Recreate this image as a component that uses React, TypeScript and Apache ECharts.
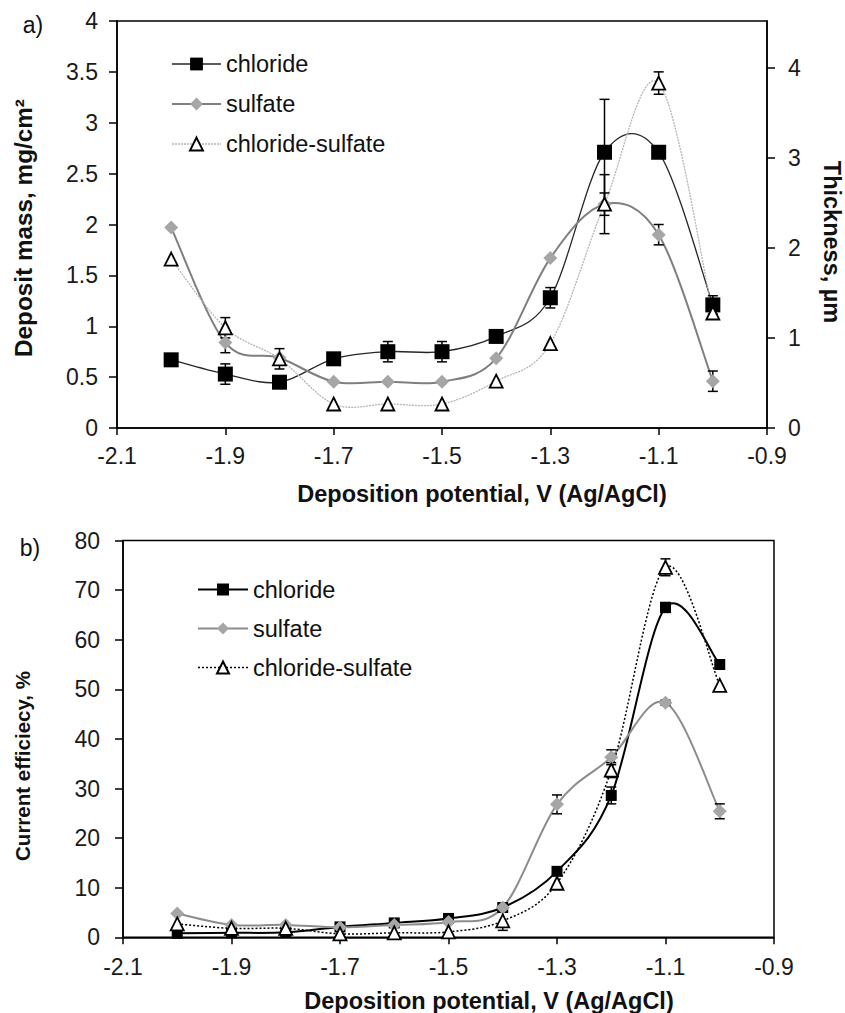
import React, { useEffect, useRef } from 'react';
import * as echarts from 'echarts';

// ---------- data ----------
const potentials = [-2.0, -1.9, -1.8, -1.7, -1.6, -1.5, -1.4, -1.3, -1.2, -1.1, -1.0];
const seriesNames = ['chloride', 'sulfate', 'chloride-sulfate'];

// (a) deposit mass, mg/cm2
const massChloride = [0.67, 0.53, 0.45, 0.68, 0.75, 0.75, 0.9, 1.28, 2.71, 2.71, 1.21];
const massChlorideErr = [0, 0.1, 0, 0, 0.1, 0.1, 0, 0.1, 0.52, 0, 0.09];
const massSulfate = [1.97, 0.84, 0.69, 0.455, 0.455, 0.455, 0.685, 1.67, 2.2, 1.9, 0.46];
const massSulfateErr = [0, 0.1, 0, 0, 0, 0, 0, 0, 0.29, 0.1, 0.1];
const massChlSulf = [1.66, 0.985, 0.68, 0.236, 0.236, 0.236, 0.46, 0.83, 2.2, 3.39, 1.13];
const massChlSulfErr = [0, 0.1, 0.1, 0, 0, 0, 0, 0, 0.11, 0.11, 0];

// (b) current efficiency, %
const ceChloride = [0.8, 0.9, 1.0, 2.1, 2.9, 3.8, 6.0, 13.3, 28.6, 66.5, 55.0];
const ceChlorideErr = [0, 0, 0, 0, 0, 0, 0, 0, 1.7, 1.0, 0];
const ceSulfate = [4.8, 2.5, 2.5, 2.0, 2.5, 3.1, 6.0, 26.8, 36.3, 47.3, 25.4];
const ceSulfateErr = [0, 0, 0, 0, 0, 0, 0, 1.9, 1.5, 0.5, 1.5];
const ceChlSulf = [2.7, 1.8, 1.8, 0.7, 0.9, 1.1, 3.3, 10.9, 33.7, 74.6, 50.8];
const ceChlSulfErr = [0, 0, 0, 0, 0, 0, 1.9, 0, 1.5, 1.7, 0];

// axes
const xMin = -2.1, xMax = -0.9, xStep = 0.2;
const massMin = 0, massMax = 4, massStep = 0.5;
const thickMax = 4.52;
const thickTicks = [0, 1, 2, 3, 4];
const ceMin = 0, ceMax = 80, ceStep = 10;

// ---------- helpers ----------
const FONT = '"Liberation Sans", Arial, sans-serif';
const pairs = (ys: number[]) => potentials.map((x, i) => [x, ys[i]]);
const errData = (ys: number[], es: number[]) =>
  potentials.map((x, i) => [x, ys[i] - es[i], ys[i] + es[i]]).filter((_, i) => es[i] > 0);

// segments for an Excel-like smoothed line: each item holds the two end points and their neighbours
const segData = (ys: number[]) => {
  const n = potentials.length;
  const out: number[][] = [];
  for (let i = 0; i < n - 1; i++) {
    const a = Math.max(0, i - 1), d = Math.min(n - 1, i + 2);
    out.push([potentials[a], ys[a], potentials[i], ys[i], potentials[i + 1], ys[i + 1], potentials[d], ys[d]]);
  }
  return out;
};

const curveSeries = (ys: number[], style: any) => ({
  type: 'custom',
  silent: true,
  z: 1,
  encode: { x: [2, 4], y: [3, 5] },
  data: segData(ys),
  renderItem: (params: any, api: any) => {
    const p0 = api.coord([api.value(0), api.value(1)]);
    const p1 = api.coord([api.value(2), api.value(3)]);
    const p2 = api.coord([api.value(4), api.value(5)]);
    const p3 = api.coord([api.value(6), api.value(7)]);
    const t = 1 / 6;
    return {
      type: 'bezierCurve',
      shape: {
        x1: p1[0], y1: p1[1], x2: p2[0], y2: p2[1],
        cpx1: p1[0] + (p2[0] - p0[0]) * t,
        cpy1: p1[1] + (p2[1] - p0[1]) * t,
        cpx2: p2[0] - (p3[0] - p1[0]) * t,
        cpy2: p2[1] - (p3[1] - p1[1]) * t,
      },
      style: { fill: 'none', ...style },
    };
  },
});

const errSeries = (data: number[][], w: number) => ({
  type: 'custom',
  silent: true,
  z: 1,
  encode: { x: 0, y: [1, 2] },
  data,
  renderItem: (params: any, api: any) => {
    const x = api.value(0);
    const lo = api.coord([x, api.value(1)]);
    const hi = api.coord([x, api.value(2)]);
    const st = { stroke: '#000', lineWidth: 1.5 };
    return {
      type: 'group',
      children: [
        { type: 'line', shape: { x1: lo[0], y1: lo[1], x2: hi[0], y2: hi[1] }, style: st },
        { type: 'line', shape: { x1: lo[0] - w, y1: lo[1], x2: lo[0] + w, y2: lo[1] }, style: st },
        { type: 'line', shape: { x1: hi[0] - w, y1: hi[1], x2: hi[0] + w, y2: hi[1] }, style: st },
      ],
    };
  },
});

const axisLineStyle = { color: '#000', width: 1.5 };
const labelStyle = { fontSize: 23, color: '#1a1a1a', fontFamily: FONT };

const xAxisCfg = (margin: number) => ({
  type: 'value',
  min: xMin,
  max: xMax,
  interval: xStep,
  axisLine: { show: true, onZero: false, lineStyle: axisLineStyle },
  axisTick: { show: true, length: 7, lineStyle: axisLineStyle },
  axisLabel: { ...labelStyle, margin },
  splitLine: { show: false },
});

const titleText = (text: string, x: number, y: number, rotation = 0, bold = true, size = 23.5) => ({
  type: 'text',
  x,
  y,
  rotation,
  silent: true,
  style: {
    text,
    fontSize: size,
    fontWeight: bold ? 'bold' : 'normal',
    fontFamily: FONT,
    fill: '#111',
    align: 'center',
    verticalAlign: 'middle',
  },
});

const markerSeries = (name: string, ys: number[], symbol: string, size: number, item: any, line: any) => ({
  name,
  type: 'line',
  data: pairs(ys),
  symbol,
  symbolSize: size,
  z: 2,
  lineStyle: { ...line, opacity: 0 },
  itemStyle: item,
});

// line styles (shared by the curves and the legend icons)
const aLines = [
  { color: '#262626', width: 1.3, type: 'solid' },
  { color: '#7f7f7f', width: 2, type: 'solid' },
  { color: '#b5b5b5', width: 1.3, type: [2, 1] },
];
const bLines = [
  { color: '#000', width: 2, type: 'solid' },
  { color: '#8c8c8c', width: 2, type: 'solid' },
  { color: '#000', width: 1.5, type: [2, 2] },
];
const toStroke = (l: any) => ({
  stroke: l.color,
  lineWidth: l.width,
  lineDash: Array.isArray(l.type) ? l.type : null,
});
const legendData = (lines: any[]) =>
  seriesNames.map((name, i) => ({ name, lineStyle: { ...lines[i], opacity: 1 } }));

const squareItem = { color: '#000' };
const diamondItem = { color: '#a6a6a6' };
const triItem = { color: '#fff', borderColor: '#000', borderWidth: 1.8 };

// ---------- chart (a) ----------
const optionA: any = {
  animation: false,
  backgroundColor: '#fff',
  grid: { left: 117, right: 78, top: 21, bottom: 79, show: true, borderColor: '#000', borderWidth: 1.5, backgroundColor: 'transparent' },
  xAxis: xAxisCfg(16),
  yAxis: [
    {
      type: 'value',
      min: massMin,
      max: massMax,
      interval: massStep,
      axisLine: { show: true, lineStyle: axisLineStyle },
      axisTick: { show: true, length: 8, lineStyle: axisLineStyle },
      axisLabel: { ...labelStyle, margin: 19 },
      splitLine: { show: false },
    },
    {
      type: 'value',
      position: 'right',
      min: 0,
      max: thickMax,
      axisLine: { show: true, lineStyle: axisLineStyle },
      axisTick: { show: true, length: 8, lineStyle: axisLineStyle, customValues: thickTicks },
      axisLabel: { ...labelStyle, margin: 21, customValues: thickTicks },
      splitLine: { show: false },
    },
  ],
  legend: {
    orient: 'vertical',
    left: 166,
    top: 47,
    itemWidth: 49,
    itemHeight: 16,
    itemGap: 16,
    data: legendData(aLines),
    selectedMode: false,
    textStyle: { fontSize: 23.5, color: '#111', fontFamily: FONT },
  },
  series: [
    curveSeries(massChloride, toStroke(aLines[0])),
    curveSeries(massSulfate, toStroke(aLines[1])),
    curveSeries(massChlSulf, toStroke(aLines[2])),
    errSeries(
      [
        ...errData(massChloride, massChlorideErr),
        ...errData(massSulfate, massSulfateErr),
        ...errData(massChlSulf, massChlSulfErr),
      ],
      5
    ),
    markerSeries('chloride', massChloride, 'rect', 15, squareItem, aLines[0]),
    markerSeries('sulfate', massSulfate, 'diamond', 14, diamondItem, aLines[1]),
    markerSeries('chloride-sulfate', massChlSulf, 'triangle', 13, triItem, aLines[2]),
  ],
  graphic: [
    titleText('a)', 33, 25, 0, false, 23),
    titleText('Deposition potential, V (Ag/AgCl)', 482, 494),
    titleText('Deposit mass, mg/cm²', 23, 228, Math.PI / 2, true, 24.3),
    titleText('Thickness, µm', 832, 242, -Math.PI / 2),
  ],
};

// ---------- chart (b) ----------
const optionB: any = {
  animation: false,
  backgroundColor: '#fff',
  grid: { left: 123, right: 71, top: 33.5, bottom: 75.7, show: true, borderColor: '#000', borderWidth: 1.5, backgroundColor: 'transparent' },
  xAxis: xAxisCfg(18.5),
  yAxis: {
    type: 'value',
    min: ceMin,
    max: ceMax,
    interval: ceStep,
    axisLine: { show: true, lineStyle: axisLineStyle },
    axisTick: { show: true, length: 8, lineStyle: axisLineStyle },
    axisLabel: { ...labelStyle, margin: 23 },
    splitLine: { show: false },
  },
  legend: {
    orient: 'vertical',
    left: 192,
    top: 65.5,
    itemWidth: 50,
    itemHeight: 15,
    itemGap: 15,
    data: legendData(bLines),
    selectedMode: false,
    textStyle: { fontSize: 23.5, color: '#111', fontFamily: FONT },
  },
  series: [
    curveSeries(ceChloride, toStroke(bLines[0])),
    curveSeries(ceSulfate, toStroke(bLines[1])),
    curveSeries(ceChlSulf, toStroke(bLines[2])),
    errSeries(
      [
        ...errData(ceChloride, ceChlorideErr),
        ...errData(ceSulfate, ceSulfateErr),
        ...errData(ceChlSulf, ceChlSulfErr),
      ],
      5
    ),
    markerSeries('chloride', ceChloride, 'rect', 11, squareItem, bLines[0]),
    markerSeries('sulfate', ceSulfate, 'diamond', 14, diamondItem, bLines[1]),
    markerSeries('chloride-sulfate', ceChlSulf, 'triangle', 13, triItem, bLines[2]),
  ],
  graphic: [
    titleText('b)', 30, 41, 0, false, 23),
    titleText('Deposition potential, V (Ag/AgCl)', 489, 494),
    titleText('Current efficiecy, %', 22, 259, Math.PI / 2, true, 20.5),
  ],
};

function EChart({ option, style }: { option: any; style: React.CSSProperties }) {
  const ref = useRef<HTMLDivElement>(null);
  useEffect(() => {
    if (!ref.current) return;
    const chart = echarts.init(ref.current, null, { renderer: 'svg' });
    chart.setOption(option);
    return () => chart.dispose();
  }, [option]);
  return <div ref={ref} style={style} />;
}

export default function App() {
  return (
    <div style={{ position: 'absolute', left: 0, top: 0, width: 845, height: 1013, background: '#fff' }}>
      <EChart option={optionA} style={{ position: 'absolute', left: 0, top: 0, width: 845, height: 507 }} />
      <EChart option={optionB} style={{ position: 'absolute', left: 0, top: 507, width: 845, height: 506 }} />
    </div>
  );
}
